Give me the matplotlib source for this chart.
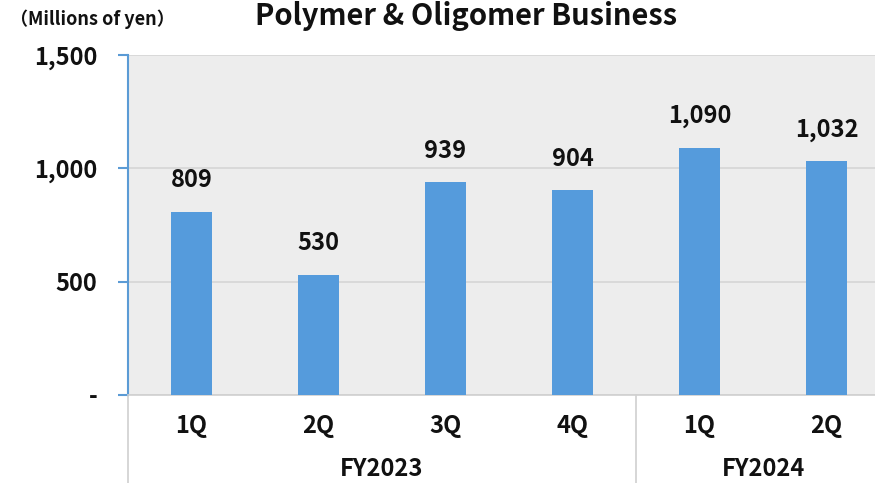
import matplotlib
matplotlib.use("Agg")
import matplotlib.pyplot as plt
from matplotlib.ticker import FixedLocator

plt.rcParams['font.family'] = ['Noto Sans CJK JP', 'DejaVu Sans']

quarters = ["1Q", "2Q", "3Q", "4Q", "1Q", "2Q"]
values = [809, 530, 939, 904, 1090, 1032]
years = ["FY2023", "FY2024"]
year_spans = [(0, 4), (4, 6)]
yticks = [0, 500, 1000, 1500]
ytick_labels = ["-", "500", "1,000", "1,500"]

W, H = 875, 483
fig = plt.figure(figsize=(W / 100, H / 100), dpi=100)
left, right, top, bottom = 128, 890, 55, 395
ax = fig.add_axes([left / W, 1 - bottom / H, (right - left) / W, (bottom - top) / H])
ax.set_facecolor("#EDEDED")

FS = 17
x = list(range(len(values)))
ax.bar(x, values, width=0.315, color="#559BDC", zorder=3)
for xi, v in zip(x, values):
    ax.annotate(f"{v:,}", (xi, v), xytext=(0, 14), textcoords="offset points",
                ha="center", va="bottom", fontsize=FS, fontweight="bold", color="#111111")

ax.set_xlim(-0.5, len(values) - 0.5)
ax.set_ylim(0, 1500)
ax.yaxis.set_major_locator(FixedLocator(yticks))
ax.set_yticklabels(ytick_labels, fontsize=FS, fontweight="bold", color="#111111")
ax.grid(axis="y", color="#D6D6D6", linewidth=1.2, zorder=0)
ax.set_axisbelow(True)

for s in ["top", "right"]:
    ax.spines[s].set_visible(False)
ax.spines["left"].set_color("#5B9BD5")
ax.spines["left"].set_linewidth(1.5)
ax.spines["bottom"].set_color("#D0D0D0")
ax.spines["bottom"].set_linewidth(1.2)
ax.tick_params(axis="y", length=7, width=1.5, color="#5B9BD5", pad=15)
ax.tick_params(axis="x", length=0)
ax.set_xticks(x)
ax.set_xticklabels(quarters, fontsize=FS, fontweight="bold", color="#111111")
ax.tick_params(axis="x", pad=14)

# FY group labels and separators
trans = ax.get_xaxis_transform()
yfy = -(469 - bottom) / (bottom - top)
for name, (a, b) in zip(years, year_spans):
    ax.text((a + b - 1) / 2, yfy, name, transform=trans, ha="center", va="center",
            fontsize=FS, fontweight="bold", color="#111111")
ybot = -(H - bottom) / (bottom - top)
for xs in [-0.5, 3.5]:
    ax.plot([xs, xs], [0, ybot], transform=trans, color="#D0D0D0", linewidth=1.2,
            clip_on=False)

fig.text(255 / W + (678 - 255) / 2 / W, 1 - 16 / H, "Polymer & Oligomer Business",
         ha="center", va="center", fontsize=21, fontweight="bold", color="#111111")
fig.text(10 / W, 1 - 19 / H, "（Millions of yen）", ha="left", va="center",
         fontsize=13, fontweight="bold", color="#111111")

fig.savefig("out.png", dpi=100)
